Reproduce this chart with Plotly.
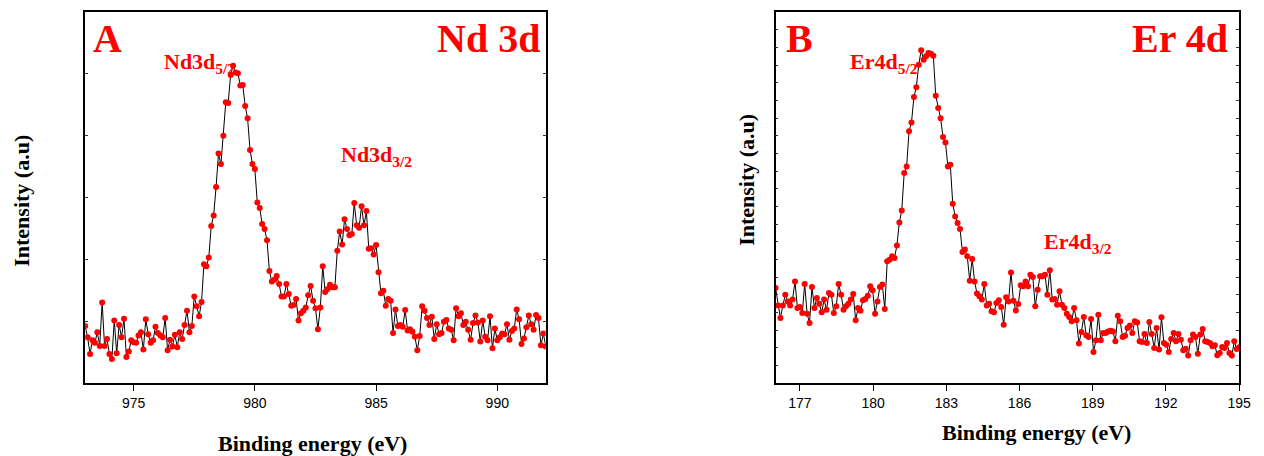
import numpy as np
import plotly.graph_objects as go

W, H = 1264, 456

# ---------------- data ----------------
nd_energy_start, nd_energy_end = 973.0, 992.0
nd_intensity = [
    0.92, 0.74, 0.47, 0.69, 0.65, 0.82, 0.60, 1.30, 0.60, 0.71,
    0.47, 0.39, 1.01, 0.48, 0.94, 0.74, 1.04, 0.42, 0.51, 0.69,
    0.66, 0.65, 0.77, 0.82, 0.54, 1.03, 0.79, 0.65, 0.69, 0.91,
    0.81, 0.77, 0.74, 1.05, 0.53, 0.70, 0.59, 0.78, 0.58, 0.82,
    0.71, 0.94, 1.17, 0.82, 0.92, 1.40, 1.24, 1.08, 1.31, 1.92,
    1.89, 2.03, 2.54, 2.71, 3.17, 3.71, 3.54, 4.00, 4.54, 4.53,
    4.98, 5.13, 5.02, 5.01, 4.81, 4.82, 4.48, 4.28, 3.77, 3.54,
    3.46, 2.92, 2.83, 2.57, 2.49, 2.31, 1.81, 1.64, 1.67, 1.73,
    1.60, 1.40, 1.40, 1.60, 1.44, 1.25, 1.26, 1.36, 1.01, 1.13,
    1.17, 1.22, 1.42, 1.57, 1.33, 1.21, 0.87, 1.22, 1.89, 1.47,
    1.52, 1.59, 1.55, 1.55, 2.14, 2.45, 2.24, 2.65, 2.49, 2.39,
    2.41, 2.91, 2.55, 2.51, 2.86, 2.55, 2.78, 2.17, 2.18, 2.08,
    2.23, 1.79, 1.45, 1.49, 1.25, 1.36, 1.33, 0.81, 1.19, 0.92,
    0.94, 0.91, 1.18, 0.85, 0.87, 0.83, 0.75, 0.53, 0.76, 1.24,
    1.17, 1.05, 0.94, 1.07, 0.71, 0.95, 0.79, 0.81, 0.99, 1.02,
    0.88, 0.86, 0.69, 1.21, 1.08, 1.13, 0.94, 0.99, 0.86, 0.70,
    0.97, 1.09, 0.98, 0.67, 1.01, 0.75, 0.69, 1.08, 0.56, 0.88,
    0.69, 0.74, 0.80, 0.79, 0.95, 0.70, 0.84, 0.88, 1.19, 1.03,
    0.63, 0.72, 0.90, 1.09, 0.95, 0.86, 1.10, 1.05, 0.61, 0.80,
    0.59,
]

er_energy_start, er_energy_end = 176.0, 195.0
er_intensity = [
    5.38, 4.38, 3.68, 4.38, 5.00, 4.62, 4.38, 4.72, 5.75, 4.25,
    4.30, 3.96, 5.60, 3.92, 3.40, 5.43, 4.25, 4.81, 4.49, 4.00,
    4.72, 4.15, 5.09, 5.00, 3.96, 4.34, 5.60, 5.00, 4.15, 4.34,
    4.49, 4.72, 5.04, 3.55, 4.25, 4.09, 4.68, 4.75, 4.94, 5.47,
    5.25, 3.92, 4.62, 5.43, 5.57, 4.19, 6.89, 6.98, 7.17, 7.08,
    7.79, 9.09, 9.77, 11.89, 12.26, 14.25, 14.75, 16.19, 16.74, 18.02,
    18.83, 18.30, 18.49, 18.68, 18.64, 18.53, 16.26, 15.57, 14.98, 13.92,
    13.62, 12.26, 12.36, 10.15, 9.43, 9.06, 8.72, 7.42, 7.55, 7.17,
    5.79, 7.02, 5.75, 5.06, 4.91, 4.72, 5.60, 4.38, 4.49, 4.06,
    4.00, 4.53, 4.68, 4.30, 3.30, 4.85, 4.62, 6.26, 4.66, 4.11,
    4.47, 5.53, 5.47, 5.75, 5.47, 6.13, 6.00, 4.34, 5.28, 6.04,
    6.04, 6.13, 5.00, 6.38, 4.72, 4.75, 4.43, 5.19, 4.43, 4.25,
    3.92, 3.74, 3.49, 4.25, 3.55, 2.23, 2.89, 3.74, 2.70, 2.60,
    3.62, 1.75, 2.42, 3.87, 2.42, 2.83, 2.83, 2.92, 2.96, 2.92,
    2.36, 3.81, 3.49, 2.60, 2.68, 3.11, 3.25, 2.83, 3.49, 3.43,
    2.36, 2.32, 2.77, 2.26, 3.45, 2.77, 1.98, 3.11, 1.89, 3.72,
    2.26, 2.17, 1.75, 2.49, 2.83, 2.36, 2.77, 2.45, 1.85, 1.94,
    1.55, 2.42, 2.74, 2.60, 1.66, 2.74, 3.06, 2.36, 2.32, 2.26,
    2.08, 2.13, 1.57, 1.70, 2.04, 1.98, 2.26, 1.70, 1.55, 2.36,
    1.92, 2.02,
]

nd_ticks = [975, 980, 985, 990]
er_ticks = [177, 180, 183, 186, 189, 192, 195]

nd_energy = np.linspace(nd_energy_start, nd_energy_end, len(nd_intensity))
er_energy = np.linspace(er_energy_start, er_energy_end, len(er_intensity))

# ---------------- figure ----------------
RED = "#FF0000"
SERIF = "Liberation Serif, Times New Roman, serif"
SANS = "Liberation Sans, Arial, sans-serif"


def px(x):
    return x / W


def py(y):
    return 1 - y / H


fig = go.Figure()
for xs, ys, xa, ya in [(nd_energy, nd_intensity, "x", "y"),
                       (er_energy, er_intensity, "x2", "y2")]:
    fig.add_trace(go.Scatter(
        x=xs, y=ys, xaxis=xa, yaxis=ya, mode="lines+markers",
        line=dict(color="black", width=1),
        marker=dict(color=RED, size=6, line=dict(width=0)),
        showlegend=False, cliponaxis=True,
    ))

ydom = [py(383), py(12)]
common_x = dict(showgrid=False, zeroline=False, showline=True, linecolor="black",
                linewidth=1.5, mirror=True, ticks="outside", ticklen=6,
                tickwidth=1, tickcolor="black",
                tickfont=dict(family=SANS, size=14, color="black"))
common_y = dict(showgrid=False, zeroline=False, showline=True, linecolor="black",
                linewidth=1.5, mirror="ticks", ticks="inside", ticklen=3,
                tickwidth=1, tickcolor="#333333", showticklabels=False)

fig.update_layout(
    width=W, height=H,
    margin=dict(l=0, r=0, t=0, b=0),
    paper_bgcolor="white", plot_bgcolor="white",
    xaxis=dict(domain=[px(86), px(551)], range=[973, 992], tickvals=nd_ticks,
               anchor="y", **common_x),
    yaxis=dict(domain=ydom, range=[0, 6], dtick=1, tick0=0, anchor="x", **common_y),
    xaxis2=dict(domain=[px(783), px(1251)], range=[176, 195], tickvals=er_ticks,
                anchor="y2", **common_x),
    yaxis2=dict(domain=ydom, range=[0, 21], dtick=1, tick0=0, anchor="x2", **common_y),
)

ann = []


def add(text, x, y, size, color=RED, xanchor="center", yanchor="middle", angle=0):
    ann.append(dict(text=text, x=px(x), y=py(y), xref="paper", yref="paper",
                    xanchor=xanchor, yanchor=yanchor, showarrow=False,
                    textangle=angle,
                    font=dict(family=SERIF, size=size, color=color)))


add("<b>A</b>", 92, 38, 40, xanchor="left")
add("<b>Nd 3d</b>", 547, 38, 40, xanchor="right")
add("<b>B</b>", 792, 38, 40, xanchor="left")
add("<b>Er 4d</b>", 1242, 38, 40, xanchor="right")

add("<b>Nd3d<sub>5/2</sub></b>", 164, 63, 22, xanchor="left")
add("<b>Nd3d<sub>3/2</sub></b>", 342, 156, 22, xanchor="left")
add("<b>Er4d<sub>5/2</sub></b>", 856, 63, 22, xanchor="left")
add("<b>Er4d<sub>3/2</sub></b>", 1052, 243, 22, xanchor="left")

add("<b>Binding energy (eV)</b>", 315, 443, 22, color="black")
add("<b>Binding energy (eV)</b>", 1046, 432, 22, color="black")
add("<b>Intensity (a.u)</b>", 21, 201, 22, color="black", angle=-90)
add("<b>Intensity (a.u)</b>", 753, 180, 22, color="black", angle=-90)

fig.update_layout(annotations=ann)
fig.write_html("out.html")
